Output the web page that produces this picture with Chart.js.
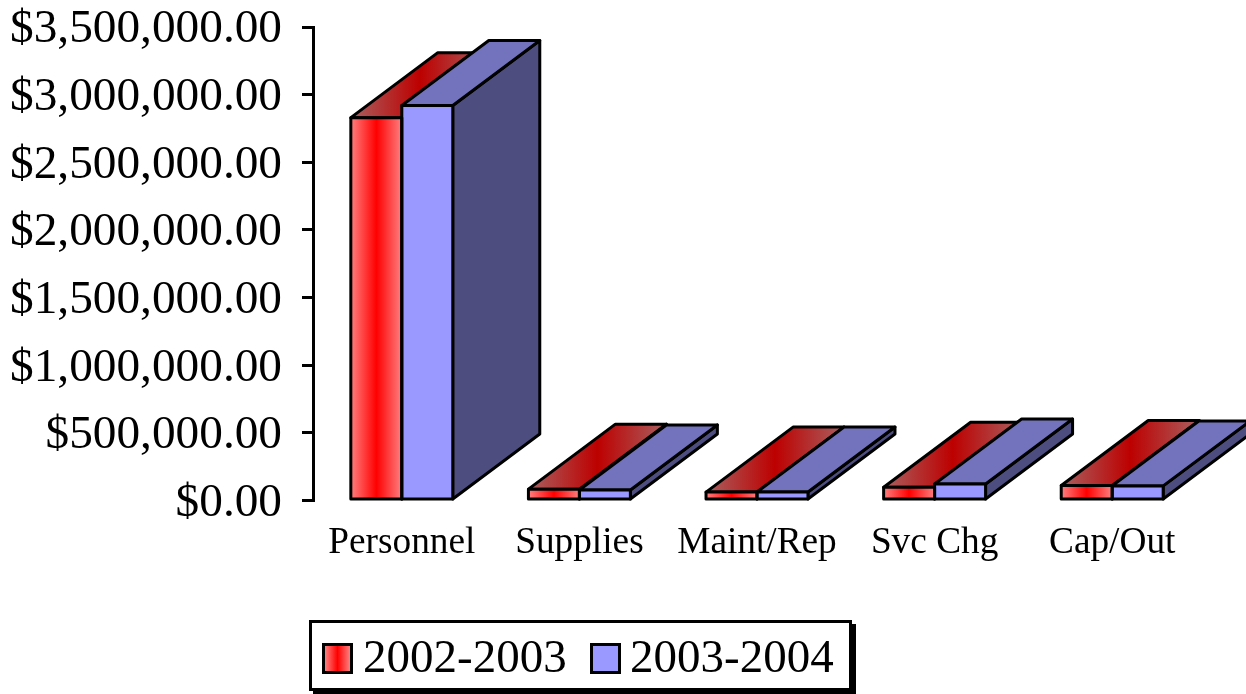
<!DOCTYPE html>
<html>
<head>
<meta charset="utf-8">
<script src="https://cdn.jsdelivr.net/npm/chart.js@4"></script>
<style>
html,body{margin:0;padding:0;background:#fff;width:1246px;height:694px;overflow:hidden}
#wrap{position:relative;width:1246px;height:694px}
#c{display:block}
#legend{position:absolute;left:309px;top:620px;width:537px;height:65px;border:3px solid #000;box-shadow:4px 4px 0 #000;background:#fff;
font:47px "Liberation Serif",serif;color:#000;display:block}
#legend .sw{position:absolute;top:20px;width:25px;height:25px;border:3px solid #000}
#legend .tx{position:absolute;top:6px;line-height:54px;white-space:nowrap}
</style>
</head>
<body>
<div id="wrap">
<canvas id="c" width="1246" height="694"></canvas>
<div id="legend"></div>
</div>
<script>
const categories = ["Personnel", "Supplies", "Maint/Rep", "Svc Chg", "Cap/Out"];
const seriesNames = ["2002-2003", "2003-2004"];
const values2002 = [2830000, 84000, 62000, 98000, 111000];
const values2003 = [2920000, 78000, 63000, 122000, 108000];

const DEPTH_X = 87, DEPTH_Y = 65, GROUP_PCT = 0.574, LINE = 3;
const faces = [
  {edge:"#ff8080", mid:"#ff0000", topEdge:"#aa6060", topMid:"#bd0000", side:"#8c2020", gradient:true},
  {edge:"#9999ff", mid:"#9999ff", topEdge:"#7373bd", topMid:"#7373bd", side:"#4d4d80", gradient:false}
];

function frontFill(ctx){
  const f = faces[ctx.datasetIndex];
  if (!f.gradient || ctx.type !== "data") return f.edge;
  const xs = ctx.chart.scales.x;
  const w = xs.width / categories.length * GROUP_PCT / 2;
  const left = xs.getPixelForValue(ctx.dataIndex) + (ctx.datasetIndex - 1) * w;
  if (!Number.isFinite(left) || !Number.isFinite(w)) return f.edge;
  const g = ctx.chart.ctx.createLinearGradient(left, 0, left + w, 0);
  g.addColorStop(0, f.edge); g.addColorStop(0.5, f.mid); g.addColorStop(1, f.edge);
  return g;
}

const bar3d = {
  id: "bar3d",
  beforeDatasetsDraw(chart){
    const c = chart.ctx;
    c.save();
    c.lineWidth = LINE; c.strokeStyle = "#000"; c.lineJoin = "round";
    chart.data.datasets.forEach((ds, di) => {
      const f = faces[di];
      chart.getDatasetMeta(di).data.forEach(el => {
        const l = el.x - el.width / 2, r = el.x + el.width / 2, t = el.y, b = el.base;
        // side face
        c.beginPath();
        c.moveTo(r, t); c.lineTo(r + DEPTH_X, t - DEPTH_Y); c.lineTo(r + DEPTH_X, b - DEPTH_Y); c.lineTo(r, b); c.closePath();
        c.fillStyle = f.side; c.fill(); c.stroke();
        // top face: horizontal gradient across its bounding box
        c.beginPath();
        c.moveTo(l, t); c.lineTo(l + DEPTH_X, t - DEPTH_Y); c.lineTo(r + DEPTH_X, t - DEPTH_Y); c.lineTo(r, t); c.closePath();
        const g = c.createLinearGradient(l, 0, r + DEPTH_X, 0);
        g.addColorStop(0, f.topEdge); g.addColorStop(0.5, f.topMid); g.addColorStop(1, f.topEdge);
        c.fillStyle = g;
        c.fill();
        c.stroke();
      });
    });
    c.restore();
  },
  afterDatasetsDraw(chart){
    const c = chart.ctx;
    c.save();
    c.lineWidth = LINE; c.strokeStyle = "#000"; c.lineJoin = "round";
    chart.data.datasets.forEach((ds, di) => {
      chart.getDatasetMeta(di).data.forEach(el => {
        c.strokeRect(el.x - el.width / 2, el.y, el.width, el.base - el.y);
      });
    });
    c.restore();
  }
};

const chart = new Chart(document.getElementById("c"), {
  type: "bar",
  data: {
    labels: categories,
    datasets: [
      {label: seriesNames[0], data: values2002, backgroundColor: frontFill, borderWidth: 0, categoryPercentage: GROUP_PCT, barPercentage: 1},
      {label: seriesNames[1], data: values2003, backgroundColor: frontFill, borderWidth: 0, categoryPercentage: GROUP_PCT, barPercentage: 1}
    ]
  },
  plugins: [bar3d],
  options: {
    responsive: false,
    animation: false,
    layout: {padding: {left: 0, right: 45, top: 27, bottom: 0}},
    plugins: {legend: {display: false}, tooltip: {enabled: false}, title: {display: false}},
    scales: {
      x: {
        afterFit(s){ s.height = 193.5; s.paddingLeft = 0; s.paddingRight = 0; },
        grid: {display: false},
        border: {display: false},
        ticks: {color: "#000", font: {family: "Liberation Serif", size: 37.3}, padding: 12.5, maxRotation: 0, minRotation: 0, autoSkip: false}
      },
      y: {
        min: 0, max: 3500000,
        afterFit(s){ s.width = 313; s.paddingTop = 0; s.paddingBottom = 0; },
        grid: {drawOnChartArea: false, drawTicks: true, tickLength: 11, color: "#000", lineWidth: 3},
        border: {display: true, color: "#000", width: 3},
        ticks: {color: "#000", stepSize: 500000, padding: 20, labelOffset: 3, font: {family: "Liberation Serif", size: 47.3},
          callback: v => "$" + Number(v).toLocaleString("en-US", {minimumFractionDigits: 2, maximumFractionDigits: 2})}
      }
    }
  }
});

// Legend built from the chart's own series
const lg = document.getElementById("legend");
const swatchX = [10, 278], textX = [51, 318];
chart.data.datasets.forEach((ds, i) => {
  const s = document.createElement("div");
  s.className = "sw"; s.style.left = swatchX[i] + "px";
  s.style.background = faces[i].gradient
    ? "linear-gradient(90deg," + faces[i].edge + "," + faces[i].mid + "," + faces[i].edge + ")"
    : faces[i].edge;
  const t = document.createElement("div");
  t.className = "tx"; t.style.left = textX[i] + "px"; t.textContent = ds.label;
  lg.appendChild(s); lg.appendChild(t);
});
</script>
</body>
</html>
